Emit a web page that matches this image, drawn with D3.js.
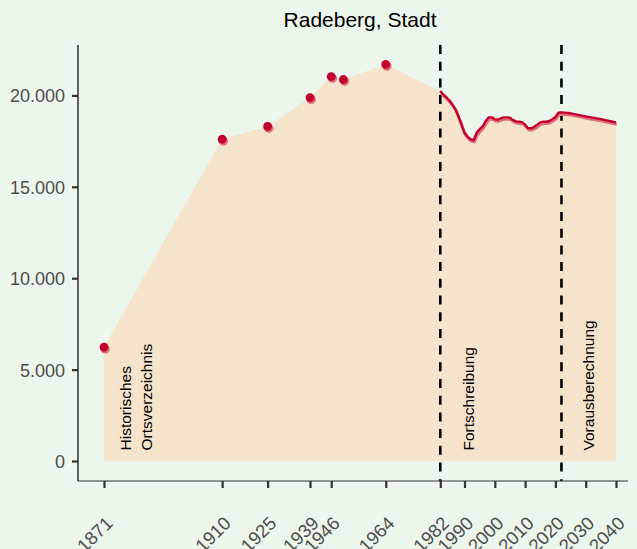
<!DOCTYPE html>
<html>
<head>
<meta charset="utf-8">
<script src="https://cdn.jsdelivr.net/npm/d3@7"></script>
<style>
  html, body { margin: 0; padding: 0; background: #edf6ec; }
  svg { display: block; font-family: "Liberation Sans", Arial, sans-serif; }
</style>
</head>
<body>
<svg id="chart" width="637" height="549"></svg>
<script>
// ---- data ----
const histYears  = [1871, 1910, 1925, 1939, 1946, 1950, 1964];
const histValues = [6230, 17600, 18300, 19880, 21030, 20870, 21700];

const fortYears  = [1982,1983,1984,1985,1986,1987,1988,1989,1990,1991,1992,1993,1994,1995,1996,1997,1998,1999,2000,2001,
                    2002,2003,2004,2005,2006,2007,2008,2009,2010,2011,2012,2013,2014,2015,2016,2017,2018,2019,2020,2021];
const fortValues = [20240,20050,19900,19720,19500,19250,18850,18400,17950,17750,17600,17550,17950,18150,18300,18600,18800,18800,18700,18670,
                    18750,18800,18800,18780,18650,18580,18560,18540,18400,18200,18200,18280,18400,18520,18560,18560,18600,18700,18820,19050];

const projYears  = [2021, 2022, 2025, 2030, 2035, 2040];
const projValues = [19050, 19070, 19020, 18850, 18700, 18520];

const xTicks = [1871, 1910, 1925, 1939, 1946, 1964, 1982, 1990, 2000, 2010, 2020, 2030, 2040];
const yTicks = [0, 5000, 10000, 15000, 20000];
const breakYears = [1982, 2022];
const sectionLabels = [
  {year: 1881.5, lines: ["Historisches", "Ortsverzeichnis"]},
  {year: 1991.3, lines: ["Fortschreibung"]},
  {year: 2031, lines: ["Vorausberechnung"]}
];
const title = "Radeberg, Stadt";

// ---- layout ----
const svg = d3.select("#chart");
const x = d3.scaleLinear().domain([1871, 2040]).range([104, 616]);
const y = d3.scaleLinear().domain([0, 20000]).range([461, 95.4]);
const axisY = 481;

const red = "#c3002d";
const redLight = "#e0707c";
const areaFill = "#f6e3cb";
const FONT = "Liberation Sans, Arial, sans-serif";

// area
const allPts = [];
histYears.forEach((yr, i) => allPts.push([yr, histValues[i]]));
fortYears.forEach((yr, i) => allPts.push([yr, fortValues[i]]));
projYears.slice(1).forEach((yr, i) => allPts.push([yr, projValues[i + 1]]));

svg.append("path")
  .datum(allPts)
  .attr("fill", areaFill)
  .attr("d", d3.area().x(d => x(d[0])).y0(y(0)).y1(d => y(d[1])));

// dashed break lines
svg.selectAll("line.brk").data(breakYears).enter().append("line")
  .attr("x1", d => x(d)).attr("x2", d => x(d))
  .attr("y1", 45).attr("y2", axisY)
  .attr("stroke", "#000").attr("stroke-width", 2.6)
  .attr("stroke-dasharray", "9,7.7");

// lines (light shadow + dark)
const lineGen = d3.line().x(d => x(d[0])).y(d => y(d[1]));
const linePts = fortYears.map((yr, i) => [yr, fortValues[i]]).concat(projYears.slice(1).map((yr, i) => [yr, projValues[i + 1]]));
svg.append("path").datum(linePts)
  .attr("fill", "none").attr("stroke", redLight).attr("stroke-width", 3)
  .attr("stroke-linejoin", "round")
  .attr("transform", "translate(0.8,1.8)")
  .attr("d", lineGen);
svg.append("path").datum(linePts)
  .attr("fill", "none").attr("stroke", red).attr("stroke-width", 2.4)
  .attr("stroke-linejoin", "round")
  .attr("d", lineGen);

// points
const hist = histYears.map((yr, i) => [yr, histValues[i]]);
svg.selectAll("circle.pl").data(hist).enter().append("circle")
  .attr("cx", d => x(d[0]) + 1.2).attr("cy", d => y(d[1]) + 1.8)
  .attr("r", 4.6).attr("fill", redLight);
svg.selectAll("circle.pd").data(hist).enter().append("circle")
  .attr("cx", d => x(d[0])).attr("cy", d => y(d[1]))
  .attr("r", 4.4).attr("fill", red);

// section labels
sectionLabels.forEach(s => {
  const n = s.lines.length;
  s.lines.forEach((t, i) => {
    const cx = x(s.year) + (i - (n - 1) / 2) * 21.7;
    svg.append("text")
      .attr("transform", `translate(${cx},450.5) rotate(-90)`)
      .attr("dy", "0.36em")
      .attr("font-size", 15.5)
      .attr("font-family", FONT)
      .attr("fill", "#000")
      .text(t);
  });
});

// axes
const gy = svg.append("g").attr("transform", "translate(78,0)")
  .call(d3.axisLeft(y).tickValues(yTicks).tickSize(6).tickPadding(7)
    .tickFormat(d => d3.format(",")(d).replace(/,/g, ".")));
gy.select(".domain").attr("d", `M0,45V${axisY}`).attr("stroke", "#000").attr("stroke-width", 1.2);
gy.selectAll(".tick line").attr("stroke", "#333").attr("stroke-width", 2.2);
gy.selectAll(".tick text").attr("font-size", 18).attr("fill", "#4d4d4d")
  .attr("font-family", FONT).attr("dy", "0.36em");

const gx = svg.append("g").attr("transform", `translate(0,${axisY})`)
  .call(d3.axisBottom(x).tickValues(xTicks).tickSize(7).tickFormat(d3.format("d")));
gx.select(".domain").attr("d", "M78,0H628").attr("stroke", "#333").attr("stroke-width", 1.2);
gx.selectAll(".tick line").attr("stroke", "#333").attr("stroke-width", 2.2);
gx.selectAll(".tick text")
  .attr("font-size", 18.5).attr("fill", "#4d4d4d")
  .attr("font-family", FONT)
  .attr("text-anchor", "end")
  .attr("transform", "translate(0,34) rotate(-45)")
  .attr("x", 0).attr("y", 0).attr("dy", "0.72em");

// title
svg.append("text")
  .attr("x", 360).attr("y", 27)
  .attr("text-anchor", "middle")
  .attr("font-size", 21)
  .attr("font-family", FONT)
  .attr("fill", "#000")
  .text(title);
</script>
</body>
</html>
